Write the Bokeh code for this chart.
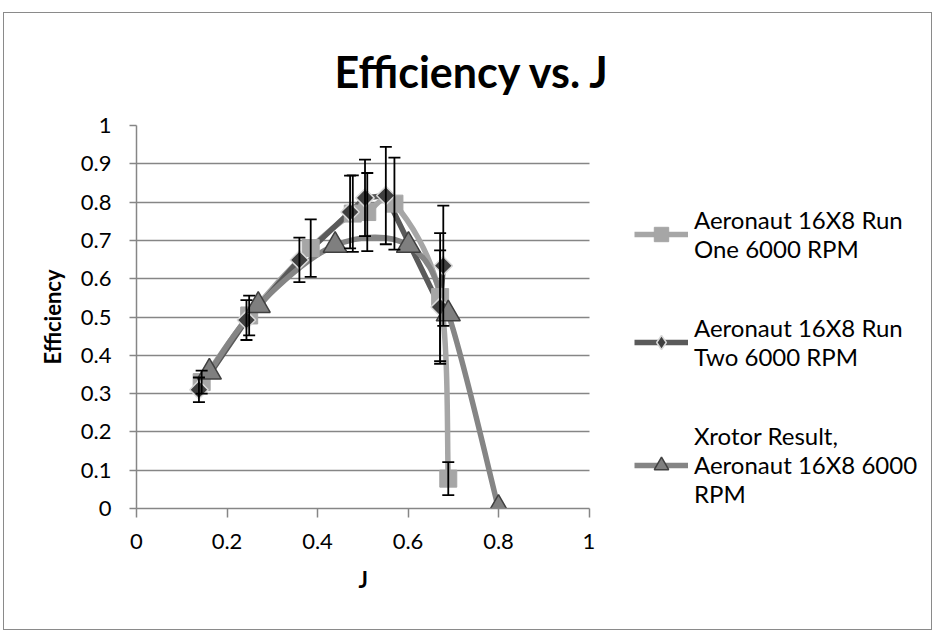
import numpy as np
from bokeh.plotting import figure
from bokeh.models import (Range1d, FixedTicker, NumeralTickFormatter, ColumnDataSource,
                          Whisker, TeeHead, Legend, LegendItem, Title)
from bokeh.embed import file_html
from bokeh.resources import INLINE

# ---------------- data ----------------
TITLE = "Efficiency vs. J"
X_LABEL = "J"
Y_LABEL = "Efficiency"
X_TICKS = [0, 0.2, 0.4, 0.6, 0.8, 1.0]
Y_TICKS = [0, 0.1, 0.2, 0.3, 0.4, 0.5, 0.6, 0.7, 0.8, 0.9, 1.0]

RUN1_NAME = "Aeronaut 16X8 Run\nOne 6000 RPM"
RUN1_J = [0.144, 0.249, 0.385, 0.478, 0.510, 0.570, 0.671, 0.689]
RUN1_EFF = [0.330, 0.504, 0.680, 0.770, 0.774, 0.796, 0.552, 0.078]
RUN1_ERR = [0.030, 0.052, 0.075, 0.100, 0.102, 0.120, 0.167, 0.043]

RUN2_NAME = "Aeronaut 16X8 Run\nTwo 6000 RPM"
RUN2_J = [0.138, 0.243, 0.360, 0.472, 0.505, 0.551, 0.671, 0.678]
RUN2_EFF = [0.310, 0.492, 0.649, 0.774, 0.811, 0.817, 0.526, 0.634]
RUN2_ERR = [0.032, 0.052, 0.058, 0.095, 0.100, 0.127, 0.148, 0.157]

XROTOR_NAME = "Xrotor Result,\nAeronaut 16X8 6000\nRPM"
XROTOR_J = [0.161, 0.269, 0.439, 0.601, 0.689, 0.800]
XROTOR_EFF = [0.356, 0.530, 0.687, 0.687, 0.508, 0.000]

# ---------------- styles ----------------
C1 = "#A6A6A6"
C2_LINE = "#5A5A5A"
C2_FILL = "#3F3F3F"
C2_EDGE = "#D9D9D9"
C3_LINE = "#858585"
C3_FILL = "#7F7F7F"
C3_EDGE = "#404040"
AXIS_C = "#868686"
FONT = "Lato"


def smooth_source(xs, ys):
    """Catmull-Rom style cubic Bezier segments through the data points."""
    x = np.asarray(xs, float)
    y = np.asarray(ys, float)
    xp = np.concatenate([[x[0]], x, [x[-1]]])
    yp = np.concatenate([[y[0]], y, [y[-1]]])
    n = len(x)
    d = dict(x0=[], y0=[], x1=[], y1=[], cx0=[], cy0=[], cx1=[], cy1=[])
    for i in range(n - 1):
        a, b, c, e = i, i + 1, i + 2, i + 3
        d["x0"].append(xp[b]); d["y0"].append(yp[b])
        d["x1"].append(xp[c]); d["y1"].append(yp[c])
        d["cx0"].append(xp[b] + (xp[c] - xp[a]) / 6.0)
        d["cy0"].append(yp[b] + (yp[c] - yp[a]) / 6.0)
        d["cx1"].append(xp[c] - (xp[e] - xp[b]) / 6.0)
        d["cy1"].append(yp[c] - (yp[e] - yp[b]) / 6.0)
    return ColumnDataSource(d)


W, H = 929, 618
LEFT, RIGHT, TOP, BOTTOM = 132, 2, 112, 123
UNIT_PX = 452.5                      # pixels for one unit of J
X_END = (W - LEFT - RIGHT) / UNIT_PX  # frame extends right to hold the legend

p = figure(width=W, height=H, output_backend="svg", toolbar_location=None,
           x_range=Range1d(0, X_END), y_range=Range1d(0, 1),
           min_border_left=LEFT, min_border_right=RIGHT,
           min_border_top=TOP, min_border_bottom=BOTTOM,
           styles={"border": "1px solid #8a8a8a", "margin-left": "3px",
                   "margin-top": "12px"})
p.outline_line_color = None
p.background_fill_color = "white"
p.border_fill_color = "white"

# title
p.title.text = TITLE
p.title.align = "left"
p.title.offset = 198
p.title.text_font = FONT
p.title.text_font_size = "43px"
p.title.text_font_style = "bold"
p.title.text_color = "black"
p.title.standoff = 58

# axes
p.xaxis.ticker = FixedTicker(ticks=X_TICKS)
p.yaxis.ticker = FixedTicker(ticks=Y_TICKS)
p.xaxis.formatter = NumeralTickFormatter(format="0.[0]")
p.yaxis.formatter = NumeralTickFormatter(format="0.[0]")
p.xaxis.bounds = (0, 1)
p.yaxis.bounds = (0, 1)
for ax in (p.xaxis, p.yaxis):
    ax.axis_line_color = AXIS_C
    ax.axis_line_width = 1.5
    ax.major_tick_line_color = AXIS_C
    ax.major_tick_line_width = 1.5
    ax.major_tick_in = 0
    ax.minor_tick_line_color = None
    ax.major_label_text_font = FONT
    ax.major_label_text_font_size = "22px"
    ax.major_label_text_color = "black"
    ax.axis_label_text_font = FONT
    ax.axis_label_text_font_size = "22px"
    ax.axis_label_text_font_style = "bold"
    ax.axis_label_text_color = "black"
p.xaxis.major_tick_out = 9
p.yaxis.major_tick_out = 7
p.xaxis.major_label_standoff = 16
p.yaxis.major_label_standoff = 18
p.yaxis.axis_label = Y_LABEL
p.yaxis.axis_label_standoff = 12

# x axis title, centred under J = 0 .. 1 (the frame also holds the legend)
p.add_layout(Title(text=X_LABEL, align="left", offset=222, text_font=FONT,
                   text_font_size="22px", text_font_style="bold",
                   text_color="black", standoff=24), "below")

p.xgrid.grid_line_color = None
ygrid = p.ygrid[0]
if "cross_bounds" in ygrid.properties():
    ygrid.grid_line_color = AXIS_C
    ygrid.grid_line_width = 1.5
    ygrid.cross_bounds = (0, 1)
else:
    ygrid.grid_line_color = None
    p.segment(x0=[0] * len(Y_TICKS), x1=[1] * len(Y_TICKS), y0=Y_TICKS,
              y1=Y_TICKS, line_color=AXIS_C, line_width=1.5, level="underlay")

# lines
r1_line = p.bezier(x0="x0", y0="y0", x1="x1", y1="y1", cx0="cx0", cy0="cy0",
                   cx1="cx1", cy1="cy1", source=smooth_source(RUN1_J, RUN1_EFF),
                   line_color=C1, line_width=5.5)
r2_line = p.line(RUN2_J, RUN2_EFF, line_color=C2_LINE, line_width=5.5,
                 line_join="round")
r3_line = p.bezier(x0="x0", y0="y0", x1="x1", y1="y1", cx0="cx0", cy0="cy0",
                   cx1="cx1", cy1="cy1", source=smooth_source(XROTOR_J, XROTOR_EFF),
                   line_color=C3_LINE, line_width=5.5)

# error bars
for xs, ys, es in ((RUN1_J, RUN1_EFF, RUN1_ERR), (RUN2_J, RUN2_EFF, RUN2_ERR)):
    src = ColumnDataSource(dict(x=xs,
                                lo=[a - b for a, b in zip(ys, es)],
                                hi=[a + b for a, b in zip(ys, es)]))
    w = Whisker(base="x", lower="lo", upper="hi", source=src, dimension="height",
                line_color="black", line_width=1.8, level="glyph",
                upper_head=TeeHead(size=12, line_color="black", line_width=1.8),
                lower_head=TeeHead(size=12, line_color="black", line_width=1.8))
    p.add_layout(w)

# markers
r1_pts = p.scatter(RUN1_J, RUN1_EFF, marker="square", size=17, fill_color=C1,
                   line_color=C1, line_width=1)
r2_key = p.scatter(RUN2_J, RUN2_EFF, marker="diamond", size=18,
                   fill_color=C2_FILL, line_color=C2_EDGE, line_width=1.5)
r2_pts = p.scatter(RUN2_J, RUN2_EFF, marker="square", angle=np.pi / 4, size=13,
                   fill_color=C2_FILL, line_color=C2_EDGE, line_width=1.5)
r3_pts = p.scatter(XROTOR_J, XROTOR_EFF, marker="triangle", size=24,
                   fill_color=C3_FILL, line_color=C3_EDGE, line_width=1.5)

legend = Legend(items=[
    LegendItem(label=RUN1_NAME, renderers=[r1_line, r1_pts]),
    LegendItem(label=RUN2_NAME, renderers=[r2_line, r2_key]),
    LegendItem(label=XROTOR_NAME, renderers=[r3_line, r3_pts]),
], location=(498, 0), orientation="vertical", padding=0, margin=0,
    border_line_color=None, background_fill_alpha=0,
    glyph_width=54, glyph_height=36, label_standoff=6, spacing=50,
    label_text_font=FONT, label_text_font_size="24px",
    label_text_color="black")
p.add_layout(legend)

open("out.html", "w").write(file_html(p, INLINE))
